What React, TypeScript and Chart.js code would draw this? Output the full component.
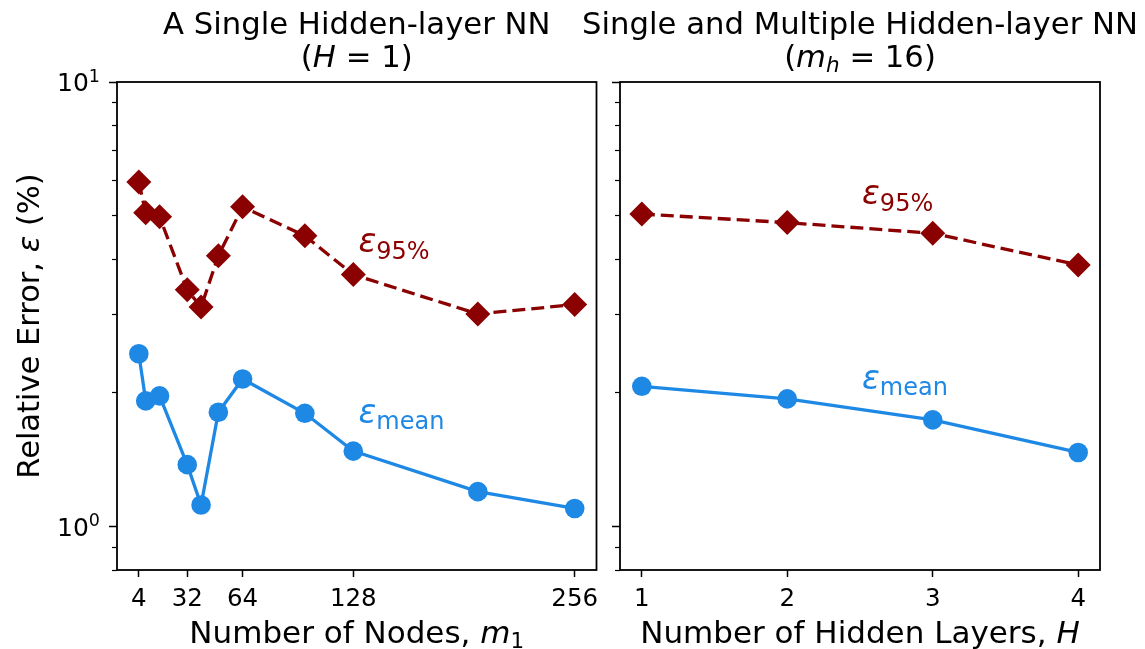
import React, { useEffect, useRef } from 'react';
import { Chart, registerables } from 'chart.js';
Chart.register(...registerables);

// ---- data ----
const nodes = [4, 8, 16, 32, 40, 50, 64, 100, 128, 200, 256];
const nodesE95 = [5.96, 5.08, 4.98, 3.41, 3.12, 4.07, 5.24, 4.51, 3.69, 3.01, 3.16];
const nodesEMean = [2.45, 1.92, 1.97, 1.38, 1.12, 1.81, 2.15, 1.8, 1.48, 1.2, 1.1];
const layers = [1, 2, 3, 4];
const layersE95 = [5.05, 4.83, 4.57, 3.88];
const layersEMean = [2.07, 1.94, 1.74, 1.47];
const nodeTicks = [4, 32, 64, 128, 256];
const layerTicks = [1, 2, 3, 4];
const yMajorTicks = [1, 10];
const yMinorTicks = [0.8, 0.9, 2, 3, 4, 5, 6, 7, 8, 9];

const FONT = '"DejaVu Sans", sans-serif';
const RED = '#8B0000';
const BLUE = '#1E88E5';
const W = 1145;
const H = 649;

type Run = { t: string; size: number; italic?: boolean; dy?: number };

function drawRuns(
  ctx: CanvasRenderingContext2D,
  runs: Run[],
  x: number,
  y: number,
  align: 'center' | 'left' | 'right',
  color: string,
) {
  ctx.save();
  ctx.translate(x, y);
  ctx.fillStyle = color;
  ctx.textBaseline = 'alphabetic';
  ctx.textAlign = 'left';
  const fontOf = (r: Run) => `${r.italic ? 'italic ' : ''}${r.size}px ${FONT}`;
  let total = 0;
  const widths = runs.map((r) => {
    ctx.font = fontOf(r);
    const w = ctx.measureText(r.t).width;
    total += w;
    return w;
  });
  let cx = align === 'center' ? -total / 2 : align === 'right' ? -total : 0;
  runs.forEach((r, i) => {
    ctx.font = fontOf(r);
    ctx.fillText(r.t, cx, r.dy || 0);
    cx += widths[i];
  });
  ctx.restore();
}

type Panel = {
  xs: number[];
  e95: number[];
  emean: number[];
  xMin: number;
  xMax: number;
  xTicks: number[];
  padRight: number;
  yWidth: number;
  showYLabels: boolean;
  title1: string;
  title2: Run[];
  xLabel: Run[];
  ann95: [number, number];
  annMean: [number, number];
};

function makeConfig(p: Panel): any {
  const textPlugin = {
    id: 'texts',
    afterDraw(chart: any) {
      const ctx: CanvasRenderingContext2D = chart.ctx;
      const a = chart.chartArea;
      const xs = chart.scales.x;
      const ys = chart.scales.y;
      // frame
      ctx.save();
      ctx.strokeStyle = '#000';
      ctx.lineWidth = 1.8;
      ctx.strokeRect(a.left, a.top, a.right - a.left, a.bottom - a.top);
      ctx.restore();
      const cx = (a.left + a.right) / 2;
      // titles
      drawRuns(ctx, [{ t: p.title1, size: 30.7 }], cx, 34, 'center', '#000');
      drawRuns(ctx, p.title2, cx, 67, 'center', '#000');
      // x tick labels
      p.xTicks.forEach((v) => {
        drawRuns(ctx, [{ t: String(v), size: 24.5 }], xs.getPixelForValue(v), 606, 'center', '#000');
      });
      // x label
      drawRuns(ctx, p.xLabel, cx, 643, 'center', '#000');
      if (p.showYLabels) {
        // y tick labels 10^n
        yMajorTicks.forEach((v) => {
          const py = ys.getPixelForValue(v);
          drawRuns(ctx, [
            { t: '10', size: 25 },
            { t: String(Math.round(Math.log10(v))), size: 17.5, dy: -9.5 },
          ], 100, py + 9, 'right', '#000');
        });
        // y label
        ctx.save();
        ctx.translate(39, (a.top + a.bottom) / 2);
        ctx.rotate(-Math.PI / 2);
        drawRuns(ctx, [
          { t: 'Relative Error, ', size: 30.5 },
          { t: 'ε', size: 30.5, italic: true },
          { t: ' (%)', size: 30.5 },
        ], 0, 0, 'center', '#000');
        ctx.restore();
      }
      // annotations
      drawRuns(ctx, [
        { t: 'ε', size: 33, italic: true },
        { t: '95%', size: 24, dy: 7 },
      ], xs.getPixelForValue(p.ann95[0]), ys.getPixelForValue(p.ann95[1]), 'left', RED);
      drawRuns(ctx, [
        { t: 'ε', size: 33, italic: true },
        { t: 'mean', size: 24, dy: 6 },
      ], xs.getPixelForValue(p.annMean[0]), ys.getPixelForValue(p.annMean[1]), 'left', BLUE);
    },
  };

  return {
    type: 'scatter',
    data: {
      datasets: [
        {
          label: 'e95',
          data: p.xs.map((x, i) => ({ x, y: p.e95[i] })),
          showLine: true,
          borderColor: RED,
          backgroundColor: RED,
          borderWidth: 3.3,
          borderDash: [13, 6],
          pointStyle: 'rectRot',
          pointRadius: 12.5,
          pointBorderWidth: 0,
          pointBackgroundColor: RED,
          xAxisID: 'x',
          yAxisID: 'y',
        },
        {
          label: 'emean',
          data: p.xs.map((x, i) => ({ x, y: p.emean[i] })),
          showLine: true,
          borderColor: BLUE,
          backgroundColor: BLUE,
          borderWidth: 3.3,
          pointStyle: 'circle',
          pointRadius: 9.8,
          pointBorderWidth: 0,
          pointBackgroundColor: BLUE,
          xAxisID: 'x',
          yAxisID: 'y',
        },
      ],
    },
    options: {
      animation: false,
      responsive: false,
      events: [],
      layout: { padding: { top: 82, right: p.padRight, left: 0, bottom: 0 } },
      plugins: { legend: { display: false }, tooltip: { enabled: false }, title: { display: false } },
      scales: {
        x: {
          type: 'linear',
          position: 'bottom',
          min: p.xMin,
          max: p.xMax,
          afterBuildTicks: (s: any) => {
            s.ticks = p.xTicks.map((v) => ({ value: v }));
          },
          afterFit: (s: any) => {
            s.height = 79;
          },
          ticks: { autoSkip: false, maxRotation: 0, callback: () => '' },
          grid: { drawOnChartArea: false, drawTicks: true, tickLength: 7, tickWidth: 1.5, tickColor: '#000' },
          border: { display: false },
        },
        y: {
          type: 'logarithmic',
          position: 'left',
          weight: 2,
          min: 0.8,
          max: 10,
          afterBuildTicks: (s: any) => {
            s.ticks = yMajorTicks.map((v) => ({ value: v, major: true }));
          },
          afterFit: (s: any) => {
            s.width = p.yWidth;
          },
          ticks: { autoSkip: false, callback: () => '' },
          grid: { drawOnChartArea: false, drawTicks: true, tickLength: 8, tickWidth: 1.5, tickColor: '#000' },
          border: { display: false },
        },
        yMinor: {
          type: 'logarithmic',
          position: 'left',
          weight: 0,
          min: 0.8,
          max: 10,
          afterBuildTicks: (s: any) => {
            s.ticks = yMinorTicks.map((v) => ({ value: v }));
          },
          afterFit: (s: any) => {
            s.width = 0;
          },
          ticks: { autoSkip: false, callback: () => '' },
          grid: { drawOnChartArea: false, drawTicks: true, tickLength: 5, tickWidth: 1.2, tickColor: '#000' },
          border: { display: false },
        },
      },
    },
    plugins: [textPlugin],
  };
}

const leftPanel: Panel = {
  xs: nodes,
  e95: nodesE95,
  emean: nodesEMean,
  xMin: -8.6,
  xMax: 268.6,
  xTicks: nodeTicks,
  padRight: W - 596.5,
  yWidth: 117,
  showYLabels: true,
  title1: 'A Single Hidden-layer NN',
  title2: [
    { t: '(', size: 30.7 },
    { t: 'H', size: 30.7, italic: true },
    { t: ' = 1)', size: 30.7 },
  ],
  xLabel: [
    { t: 'Number of Nodes, ', size: 31 },
    { t: 'm', size: 31, italic: true },
    { t: '1', size: 21.5, dy: 5 },
  ],
  ann95: [131, 4.15],
  annMean: [131, 1.715],
};

const rightPanel: Panel = {
  xs: layers,
  e95: layersE95,
  emean: layersEMean,
  xMin: 0.85,
  xMax: 4.15,
  xTicks: layerTicks,
  padRight: W - 1100,
  yWidth: 620,
  showYLabels: false,
  title1: 'Single and Multiple Hidden-layer NN',
  title2: [
    { t: '(', size: 30.7 },
    { t: 'm', size: 30.7, italic: true },
    { t: 'h', size: 21.5, italic: true, dy: 5 },
    { t: ' = 16)', size: 30.7 },
  ],
  xLabel: [
    { t: 'Number of Hidden Layers, ', size: 31 },
    { t: 'H', size: 31, italic: true },
  ],
  ann95: [2.514, 5.31],
  annMean: [2.514, 2.045],
};

export default function App() {
  const leftRef = useRef<HTMLCanvasElement | null>(null);
  const rightRef = useRef<HTMLCanvasElement | null>(null);
  useEffect(() => {
    const c1 = new Chart(leftRef.current as HTMLCanvasElement, makeConfig(leftPanel));
    const c2 = new Chart(rightRef.current as HTMLCanvasElement, makeConfig(rightPanel));
    return () => {
      c1.destroy();
      c2.destroy();
    };
  }, []);
  const style: React.CSSProperties = { position: 'absolute', left: 0, top: 0, width: W, height: H };
  return (
    <div style={{ position: 'absolute', left: 0, top: 0, width: W, height: H, background: '#fff' }}>
      <canvas ref={leftRef} width={W} height={H} style={style} />
      <canvas ref={rightRef} width={W} height={H} style={style} />
    </div>
  );
}
